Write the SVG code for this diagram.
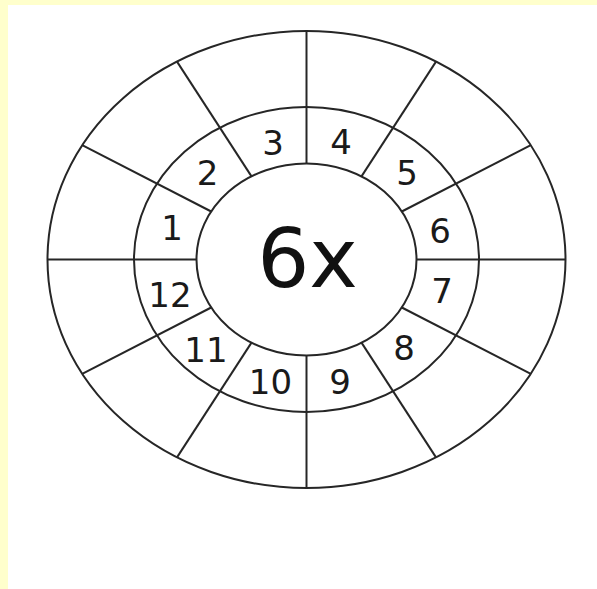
<svg xmlns="http://www.w3.org/2000/svg" width="597" height="589" viewBox="0 0 597 589">
<style>
.ring{fill:none;stroke:#262626;stroke-width:2}
.spoke{stroke:#262626;stroke-width:2}
.num{font-family:"DejaVu Sans","Liberation Sans",sans-serif;font-size:34px;fill:#1a1a1a;text-anchor:middle}
.big{font-family:"DejaVu Sans","Liberation Sans",sans-serif;font-size:82px;fill:#111;text-anchor:middle}
</style>
<rect x="0" y="0" width="597" height="589" fill="#ffffff"/>
<rect x="0" y="0" width="597" height="5" fill="#ffffcc"/>
<rect x="0" y="0" width="8" height="589" fill="#ffffcc"/>
<g id="rings">
<ellipse class="ring" cx="306.5" cy="259.5" rx="259" ry="228.5"/>
<ellipse class="ring" cx="306.5" cy="259.5" rx="172.5" ry="152.5"/>
<ellipse class="ring" cx="306.5" cy="259.5" rx="110" ry="96"/>
</g>
<g id="connectors">
<line class="spoke" x1="416.5" y1="259.5" x2="565.5" y2="259.5"/>
<line class="spoke" x1="401.8" y1="307.5" x2="530.8" y2="373.8"/>
<line class="spoke" x1="361.5" y1="342.6" x2="436" y2="457.4"/>
<line class="spoke" x1="306.5" y1="355.5" x2="306.5" y2="488"/>
<line class="spoke" x1="251.5" y1="342.6" x2="177" y2="457.4"/>
<line class="spoke" x1="211.2" y1="307.5" x2="82.2" y2="373.8"/>
<line class="spoke" x1="196.5" y1="259.5" x2="47.5" y2="259.5"/>
<line class="spoke" x1="211.2" y1="211.5" x2="82.2" y2="145.2"/>
<line class="spoke" x1="251.5" y1="176.4" x2="177" y2="61.6"/>
<line class="spoke" x1="306.5" y1="163.5" x2="306.5" y2="31"/>
<line class="spoke" x1="361.5" y1="176.4" x2="436" y2="61.6"/>
<line class="spoke" x1="401.8" y1="211.5" x2="530.8" y2="145.2"/>
</g>
<g id="center"><text class="big" x="307.5" y="287">6x</text></g>
<g id="n1"><text class="num" x="172" y="240">1</text></g>
<g id="n2"><text class="num" x="207.5" y="185">2</text></g>
<g id="n3"><text class="num" x="273" y="155">3</text></g>
<g id="n4"><text class="num" x="341" y="154">4</text></g>
<g id="n5"><text class="num" x="407" y="185">5</text></g>
<g id="n6"><text class="num" x="440" y="243">6</text></g>
<g id="n7"><text class="num" x="442" y="303">7</text></g>
<g id="n8"><text class="num" x="404" y="360">8</text></g>
<g id="n9"><text class="num" x="340" y="394">9</text></g>
<g id="n10"><text class="num" x="270.5" y="394">10</text></g>
<g id="n11"><text class="num" x="206" y="362">11</text></g>
<g id="n12"><text class="num" x="170" y="307">12</text></g>
</svg>
